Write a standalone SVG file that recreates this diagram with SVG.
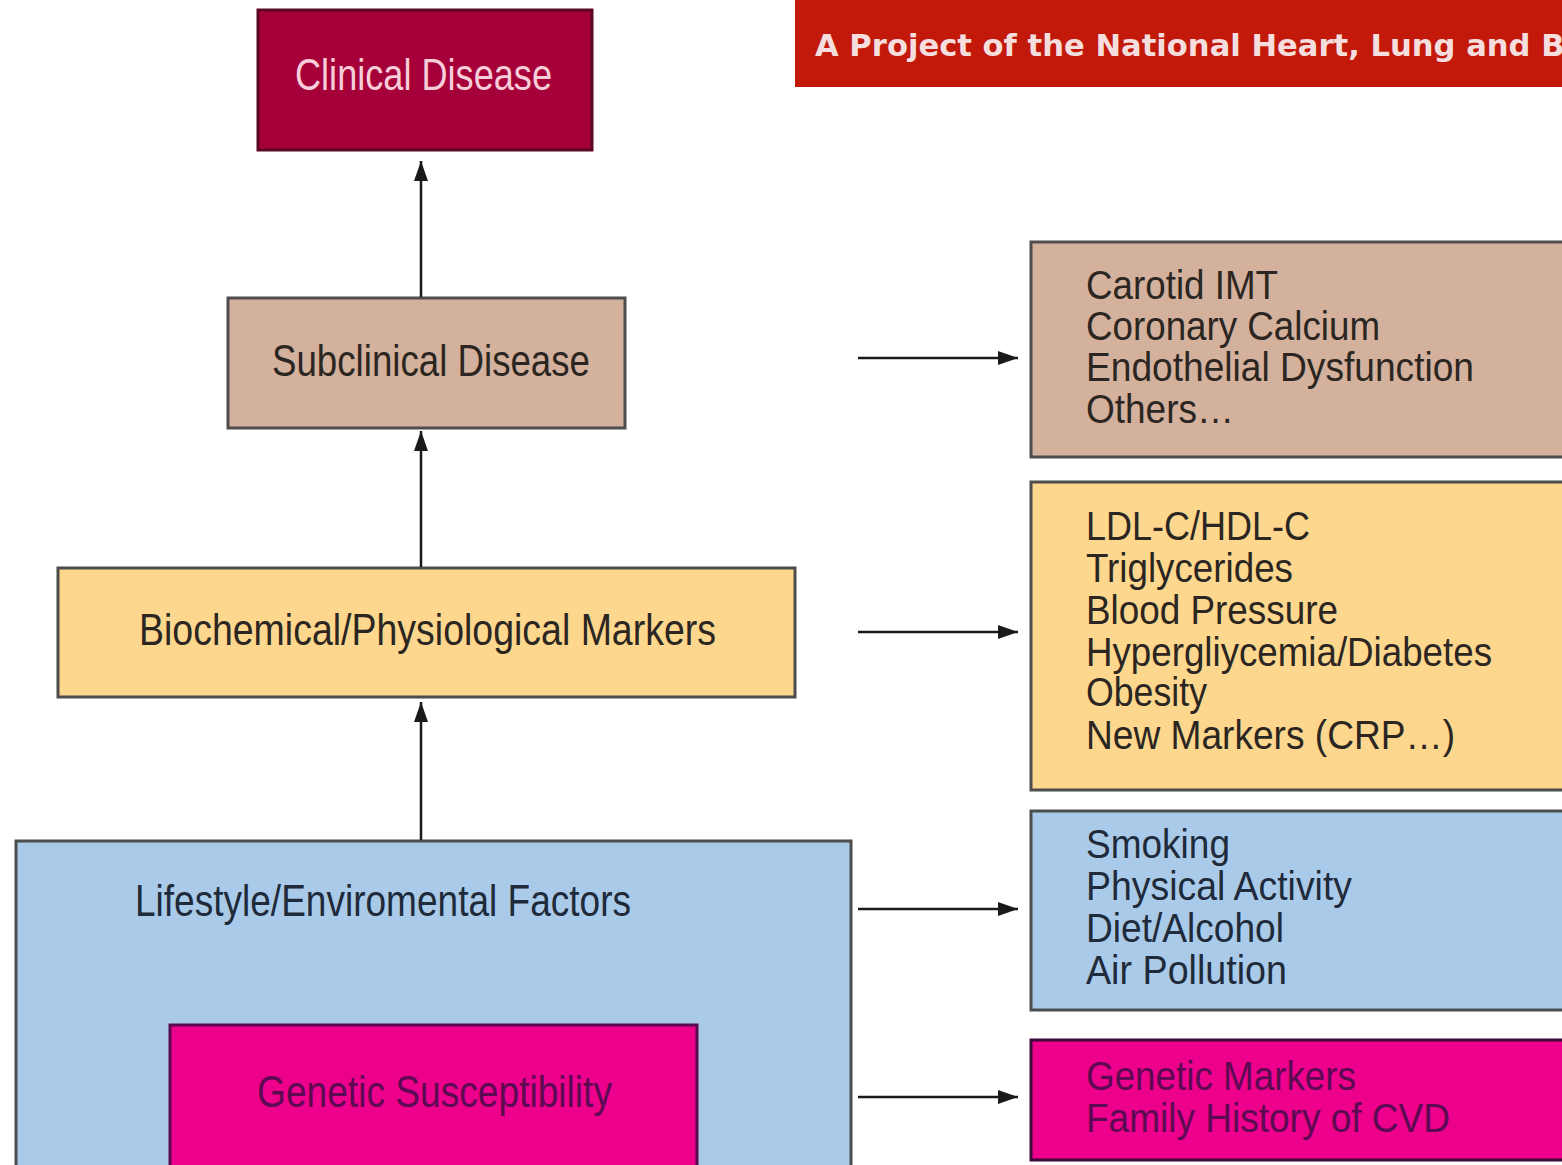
<svg xmlns="http://www.w3.org/2000/svg" width="1562" height="1165" viewBox="0 0 1562 1165">
<defs>
<marker id="ah" viewBox="0 0 20 14" refX="20" refY="7" markerWidth="20" markerHeight="14" markerUnits="userSpaceOnUse" orient="auto">
<path d="M0,0 L20,7 L0,14 z" fill="#1a1a1a"/>
</marker>
<style>
.t{font-family:"Liberation Sans",Arial,sans-serif;font-size:41px;}
.lbl{font-family:"Liberation Sans",Arial,sans-serif;font-size:44px;}
.dk{fill:#2b2622;}
.bl{fill:#1f2a3a;}
.pk{fill:#5c0a52;}
.edge{stroke:#1a1a1a;stroke-width:2.5;fill:none;marker-end:url(#ah);}
.box{stroke:#4d4d4d;stroke-width:3;}
</style>
</defs>
<rect width="1562" height="1165" fill="#ffffff"/>

<g id="banner">
<rect x="795" y="0" width="767" height="87" fill="#c2190b"/>
<text x="815" y="56" font-family="'DejaVu Sans',Verdana,sans-serif" font-weight="bold" font-size="30" fill="#f6dede" textLength="760" lengthAdjust="spacingAndGlyphs">A Project of the National Heart, Lung and Bl</text>
</g>

<g id="clinical">
<rect x="258" y="10" width="334" height="140" fill="#a6003a" stroke="#5a0a20" stroke-width="3"/>
<text class="lbl" x="295" y="90" fill="#f6cdd8" textLength="257" lengthAdjust="spacingAndGlyphs">Clinical Disease</text>
</g>

<g id="subclinical">
<rect class="box" x="228" y="298" width="397" height="130" fill="#d4b19d"/>
<text class="lbl dk" x="272" y="376" textLength="318" lengthAdjust="spacingAndGlyphs">Subclinical Disease</text>
</g>

<g id="biochemical">
<rect class="box" x="58" y="568" width="737" height="129" fill="#fdd78d"/>
<text class="lbl dk" x="139" y="645" textLength="577" lengthAdjust="spacingAndGlyphs">Biochemical/Physiological Markers</text>
</g>

<g id="lifestyle">
<rect class="box" x="16" y="841" width="835" height="330" fill="#a9cbe9"/>
<text class="lbl bl" x="135" y="916" textLength="496" lengthAdjust="spacingAndGlyphs">Lifestyle/Enviromental Factors</text>
</g>

<g id="genetic">
<rect x="170" y="1025" width="527" height="146" fill="#ec008c" stroke="#5c0a52" stroke-width="3"/>
<text class="lbl pk" x="257" y="1107" textLength="355" lengthAdjust="spacingAndGlyphs">Genetic Susceptibility</text>
</g>

<g id="subclinical-list">
<rect class="box" x="1031" y="242" width="540" height="215" fill="#d4b19d"/>
<text class="t dk" x="1086" y="299" textLength="192" lengthAdjust="spacingAndGlyphs">Carotid IMT</text>
<text class="t dk" x="1086" y="340" textLength="294" lengthAdjust="spacingAndGlyphs">Coronary Calcium</text>
<text class="t dk" x="1086" y="381" textLength="388" lengthAdjust="spacingAndGlyphs">Endothelial Dysfunction</text>
<text class="t dk" x="1086" y="423" textLength="148" lengthAdjust="spacingAndGlyphs">Others…</text>
</g>

<g id="markers-list">
<rect class="box" x="1031" y="482" width="540" height="308" fill="#fdd78d"/>
<text class="t dk" x="1086" y="540" textLength="224" lengthAdjust="spacingAndGlyphs">LDL-C/HDL-C</text>
<text class="t dk" x="1086" y="582" textLength="207" lengthAdjust="spacingAndGlyphs">Triglycerides</text>
<text class="t dk" x="1086" y="624" textLength="252" lengthAdjust="spacingAndGlyphs">Blood Pressure</text>
<text class="t dk" x="1086" y="666" textLength="406" lengthAdjust="spacingAndGlyphs">Hypergliycemia/Diabetes</text>
<text class="t dk" x="1086" y="706" textLength="121" lengthAdjust="spacingAndGlyphs">Obesity</text>
<text class="t dk" x="1086" y="749" textLength="369" lengthAdjust="spacingAndGlyphs">New Markers (CRP…)</text>
</g>

<g id="lifestyle-list">
<rect class="box" x="1031" y="811" width="540" height="199" fill="#a9cbe9"/>
<text class="t bl" x="1086" y="858" textLength="144" lengthAdjust="spacingAndGlyphs">Smoking</text>
<text class="t bl" x="1086" y="900" textLength="266" lengthAdjust="spacingAndGlyphs">Physical Activity</text>
<text class="t bl" x="1086" y="942" textLength="198" lengthAdjust="spacingAndGlyphs">Diet/Alcohol</text>
<text class="t bl" x="1086" y="984" textLength="201" lengthAdjust="spacingAndGlyphs">Air Pollution</text>
</g>

<g id="genetic-list">
<rect x="1031" y="1040" width="540" height="120" fill="#ec008c" stroke="#3d0a3a" stroke-width="3"/>
<text class="t pk" x="1086" y="1090" textLength="270" lengthAdjust="spacingAndGlyphs">Genetic Markers</text>
<text class="t pk" x="1086" y="1132" textLength="364" lengthAdjust="spacingAndGlyphs">Family History of CVD</text>
</g>

<g id="connectors">
<line class="edge" x1="421" y1="297" x2="421" y2="161"/>
<line class="edge" x1="421" y1="567" x2="421" y2="431"/>
<line class="edge" x1="421" y1="840" x2="421" y2="702"/>
<line class="edge" x1="858" y1="358" x2="1018" y2="358"/>
<line class="edge" x1="858" y1="632" x2="1018" y2="632"/>
<line class="edge" x1="858" y1="909" x2="1018" y2="909"/>
<line class="edge" x1="858" y1="1097" x2="1018" y2="1097"/>
</g>
</svg>
